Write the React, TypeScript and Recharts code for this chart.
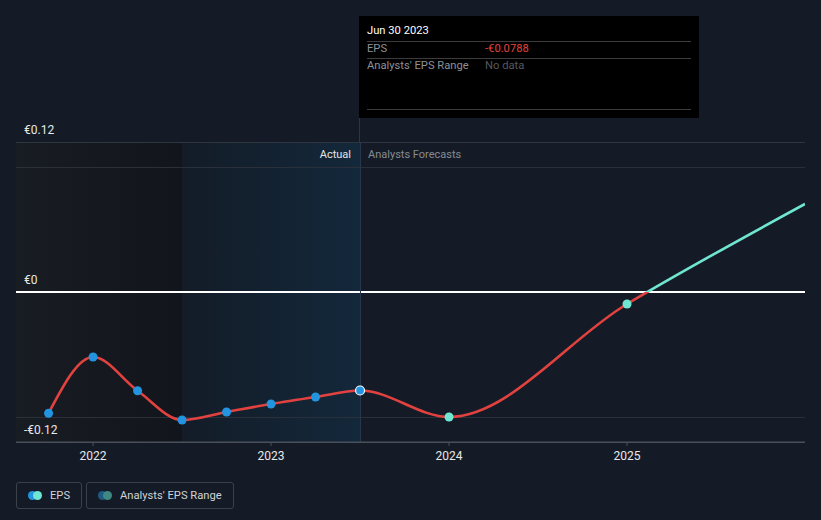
import React from 'react';
import { LineChart, Line, XAxis, YAxis, ReferenceLine, ReferenceArea } from 'recharts';

// quarter-end dates as decimal years
const actualDates = [2021.75, 2022.0, 2022.25, 2022.5, 2022.75, 2023.0, 2023.25, 2023.5];
const actualEps = [-0.097, -0.052, -0.079, -0.1024, -0.096, -0.0896, -0.084, -0.0788];
const forecastDates = [2024.0, 2025.0, 2026.0];
const forecastEps = [-0.1, -0.0096, 0.0704];
const yearTicks = [2022, 2023, 2024, 2025];
const yTicks = [-0.12, 0, 0.12];
const yLabels = ['-€0.12', '€0', '€0.12'];

const BG = '#151b26';
const RED = '#e2423f';
const CYAN = '#6fe6d1';
const BLUE = '#2394df';
const FONT = 'Roboto, "Noto Sans", sans-serif';

const data = [
  ...actualDates.map((x, i) => ({ x, eps: actualEps[i], kind: 'actual' })),
  ...forecastDates.map((x, i) => ({ x, eps: forecastEps[i], kind: 'forecast' })),
];

const renderDot = (props: any) => {
  const { cx, cy, payload, index } = props;
  if (cx == null || cy == null) return <g key={index} />;
  if (payload.x === 2026) return <g key={index} />;
  if (payload.x === 2023.5) {
    return <circle key={index} cx={cx} cy={cy} r={4.5} fill={BLUE} stroke="#ffffff" strokeWidth={1.2} />;
  }
  const fill = payload.kind === 'forecast' ? CYAN : BLUE;
  return <circle key={index} cx={cx} cy={cy} r={4.5} fill={fill} stroke="none" />;
};

const yLabel = (text: string) => (props: any) => {
  const { viewBox } = props;
  return (
    <text x={viewBox.x + 8} y={viewBox.y - 8} fill="#e8e8e8" fontSize={12} fontFamily={FONT}>
      {text}
    </text>
  );
};

const splitLabel = (props: any) => {
  const { viewBox } = props;
  const x = viewBox.x;
  const y = viewBox.y + 16;
  return (
    <g fontFamily={FONT} fontSize={11}>
      <text x={x - 9} y={y} textAnchor="end" fill="#e6e6e6">Actual</text>
      <text x={x + 8} y={y} textAnchor="start" fill="#868b93">Analysts Forecasts</text>
    </g>
  );
};

function LegendBox({ left, width, colors, label }: { left: number; width: number; colors: string[]; label: string }) {
  return (
    <div
      style={{
        position: 'absolute',
        left,
        top: 482,
        width,
        height: 27,
        boxSizing: 'border-box',
        border: '1px solid #3b4049',
        borderRadius: 3,
        display: 'flex',
        alignItems: 'center',
        paddingLeft: 11,
        fontFamily: FONT,
        fontSize: 11.2,
        color: '#cfd2d6',
        whiteSpace: 'nowrap',
      }}
    >
      <span style={{ position: 'relative', width: 14, height: 9, marginRight: 8, flexShrink: 0 }}>
        <span style={{ position: 'absolute', left: 0, top: 0, width: 9, height: 9, borderRadius: 5, background: colors[0] }} />
        <span style={{ position: 'absolute', left: 5, top: 0, width: 9, height: 9, borderRadius: 5, background: colors[1] }} />
      </span>
      {label}
    </div>
  );
}

export default function App() {
  return (
    <div style={{ position: 'absolute', left: 0, top: 0, width: 821, height: 520, background: BG, overflow: 'hidden' }}>
      <LineChart width={821} height={520} data={data} margin={{ top: 142, right: 16, bottom: 48, left: 16 }}>
        <defs>
          <linearGradient id="pastArea" x1="0" y1="0" x2="1" y2="0">
            <stop offset="0%" stopColor="#181c23" />
            <stop offset="100%" stopColor="#12151b" />
          </linearGradient>
          <linearGradient id="actualArea" x1="0" y1="0" x2="1" y2="0">
            <stop offset="0%" stopColor="#131c27" />
            <stop offset="100%" stopColor="#13283b" />
          </linearGradient>
          <linearGradient id="epsStroke" gradientUnits="userSpaceOnUse" x1="0" y1="142" x2="0" y2="442">
            <stop offset="50%" stopColor={CYAN} />
            <stop offset="50%" stopColor={RED} />
          </linearGradient>
        </defs>
        <XAxis
          dataKey="x"
          type="number"
          domain={[2021.567, 2026]}
          ticks={yearTicks}
          height={30}
          allowDataOverflow
          stroke="#4b515a"
          tickSize={4}
          tickMargin={5}
          tick={{ fill: '#e8e8e8', fontSize: 12, fontFamily: FONT }}
        />
        <YAxis type="number" domain={[-0.12, 0.12]} allowDataOverflow hide />
        <ReferenceArea x1={2021.567} x2={2022.5} y1={-0.12} y2={0.12} fill="url(#pastArea)" fillOpacity={1} stroke="none" />
        <ReferenceArea x1={2022.5} x2={2023.5} y1={-0.12} y2={0.12} fill="url(#actualArea)" fillOpacity={1} stroke="none" />
        <ReferenceLine y={yTicks[2]} stroke="#30363f" shapeRendering="crispEdges" label={yLabel(yLabels[2])} />
        <ReferenceLine y={0.1} stroke="#2a3039" shapeRendering="crispEdges" />
        <ReferenceLine y={-0.1} stroke="#2a3039" shapeRendering="crispEdges" />
        <ReferenceLine y={yTicks[0]} stroke="#4b515a" shapeRendering="crispEdges" label={yLabel(yLabels[0])} />
        <ReferenceLine y={yTicks[1]} stroke="#ffffff" strokeWidth={1.2} shapeRendering="crispEdges" label={yLabel(yLabels[1])} />
        <ReferenceLine x={2023.5} stroke="#26394c" shapeRendering="crispEdges" label={splitLabel} />
        <Line
          dataKey="eps"
          type="monotone"
          stroke="url(#epsStroke)"
          strokeWidth={2.6}
          dot={renderDot}
          activeDot={false}
          isAnimationActive={false}
        />
      </LineChart>

      <div style={{ position: 'absolute', left: 359, top: 117, width: 1, height: 25, background: '#26394c' }} />
      <div
        style={{
          position: 'absolute',
          left: 359,
          top: 16,
          width: 340,
          height: 102,
          background: '#000000',
          fontFamily: FONT,
          fontSize: 11.2,
        }}
      >
        <div style={{ position: 'absolute', left: 8, top: 8, color: '#ffffff' }}>Jun 30 2023</div>
        <div style={{ position: 'absolute', left: 8, right: 8, top: 25, height: 1, background: '#3c3c3c' }} />
        <div style={{ position: 'absolute', left: 8, top: 26, color: '#8d9096' }}>EPS</div>
        <div style={{ position: 'absolute', left: 126, top: 26, color: RED }}>-€0.0788</div>
        <div style={{ position: 'absolute', left: 8, right: 8, top: 42, height: 1, background: '#3c3c3c' }} />
        <div style={{ position: 'absolute', left: 8, top: 43, color: '#8d9096' }}>Analysts' EPS Range</div>
        <div style={{ position: 'absolute', left: 126, top: 43, color: '#55585d' }}>No data</div>
        <div style={{ position: 'absolute', left: 8, right: 8, top: 93, height: 1, background: '#3c3c3c' }} />
      </div>

      <LegendBox left={16} width={66} colors={[BLUE, CYAN]} label="EPS" />
      <LegendBox left={86} width={148} colors={['#1f5a80', '#3e8983']} label="Analysts' EPS Range" />
    </div>
  );
}
